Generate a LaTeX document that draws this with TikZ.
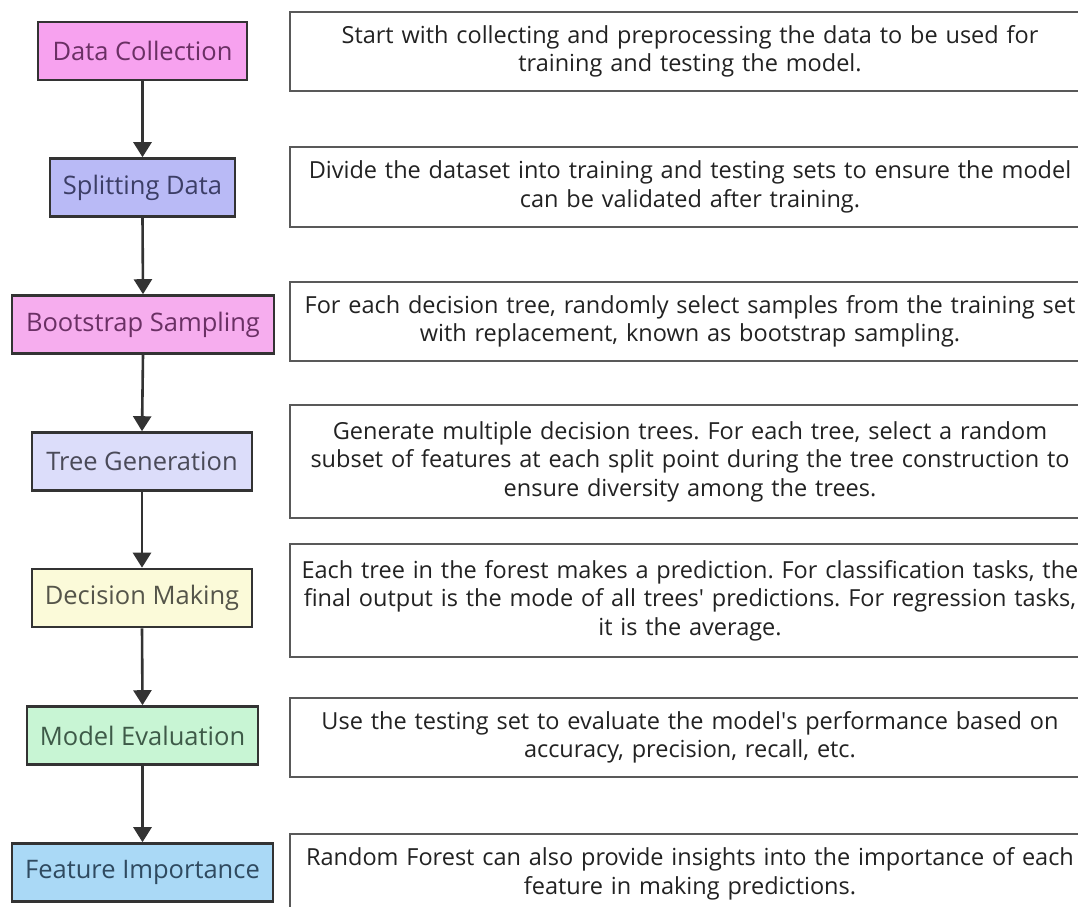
\documentclass[tikz,border=0pt]{standalone}
\usepackage{fontspec}
\setmainfont{Open Sans}
\usetikzlibrary{arrows.meta}
\frenchspacing
\definecolor{cPink}{HTML}{F7A2EF}
\definecolor{cBlue}{HTML}{B9BAF6}
\definecolor{cPink2}{HTML}{F6ADEE}
\definecolor{cLav}{HTML}{DCDDFA}
\definecolor{cYel}{HTML}{FBFAD9}
\definecolor{cGreen}{HTML}{C8F5D4}
\definecolor{cSky}{HTML}{AAD9F6}
\definecolor{tPink}{HTML}{6A3064}
\definecolor{tBlue}{HTML}{3C3E66}
\definecolor{tGray}{HTML}{4A4A58}
\definecolor{tYel}{HTML}{55554A}
\definecolor{tGreen}{HTML}{3E5A48}
\definecolor{tSky}{HTML}{2F4A60}
\definecolor{edge}{HTML}{333333}
\definecolor{dtext}{HTML}{222222}
\tikzset{
  stepbox/.style={draw=edge, line width=2.6pt, rectangle, inner sep=0pt,
     font=\fontsize{25.5}{30}\selectfont, minimum height=58pt},
  descbox/.style={draw=black!65, line width=2pt, rectangle, inner sep=0pt,
     minimum width=800pt, text width=796pt, align=center, text=dtext,
     font=\fontsize{23.5}{28.5}\selectfont},
  flow/.style={draw=edge, line width=2.6pt, -{Triangle[length=15pt,width=18pt]}}
}
\begin{document}
\begin{tikzpicture}[x=1pt,y=-1pt]
\useasboundingbox (0,0) rectangle (1078,906);
\clip (0,0) rectangle (1078,906);
\fill[white] (0,0) rectangle (1078,906);
% left steps
\node[stepbox, fill=cPink, text=tPink, minimum width=209pt] (s1) at (142.5,51) {Data Collection};
\node[stepbox, fill=cBlue, text=tBlue, minimum width=185pt] (s2) at (142.5,187.5) {Splitting Data};
\node[stepbox, fill=cPink2, text=tPink, minimum width=262pt] (s3) at (143,324.5) {Bootstrap Sampling};
\node[stepbox, fill=cLav, text=tGray, minimum width=220pt] (s4) at (142,461.5) {Tree Generation};
\node[stepbox, fill=cYel, text=tYel, minimum width=220pt] (s5) at (142,598) {Decision Making};
\node[stepbox, fill=cGreen, text=tGreen, minimum width=231pt] (s6) at (142.5,735.5) {Model Evaluation};
\node[stepbox, fill=cSky, text=tSky, minimum width=261pt] (s7) at (142.5,872.5) {Feature Importance};
% arrows
\draw[flow] (s1.south) -- (s2.north);
\draw[flow] (s2.south) -- (s3.north);
\draw[flow] (s3.south) -- (s4.north);
\draw[flow] (s4.south) -- (s5.north);
\draw[flow] (s5.south) -- (s6.north);
\draw[flow] (s6.south) -- (s7.north);
% descriptions
\node[descbox, minimum height=79pt] (d1) at (690,51.5) {Start with collecting and preprocessing the data to be used for\\training and testing the model.};
\node[descbox, minimum height=80pt] (d2) at (690,187) {Divide the dataset into training and testing sets to ensure the model\\can be validated after training.};
\node[descbox, minimum height=79pt] (d3) at (690,321.5) {For each decision tree, randomly select samples from the training set\\with replacement, known as bootstrap sampling.};
\node[descbox, minimum height=113pt] (d4) at (690,461.5) {Generate multiple decision trees. For each tree, select a random\\subset of features at each split point during the tree construction to\\ensure diversity among the trees.};
\node[descbox, minimum height=113pt] (d5) at (690,600.5) {Each tree in the forest makes a prediction. For classification tasks, the\\final output is the mode of all trees\textquotesingle{} predictions. For regression tasks,\\it is the average.};
\node[descbox, minimum height=79pt] (d6) at (690,737.5) {Use the testing set to evaluate the model\textquotesingle s performance based on\\accuracy, precision, recall, etc.};
\node[descbox, minimum height=80pt] (d7) at (690,874) {Random Forest can also provide insights into the importance of each\\feature in making predictions.};
\end{tikzpicture}
\end{document}
